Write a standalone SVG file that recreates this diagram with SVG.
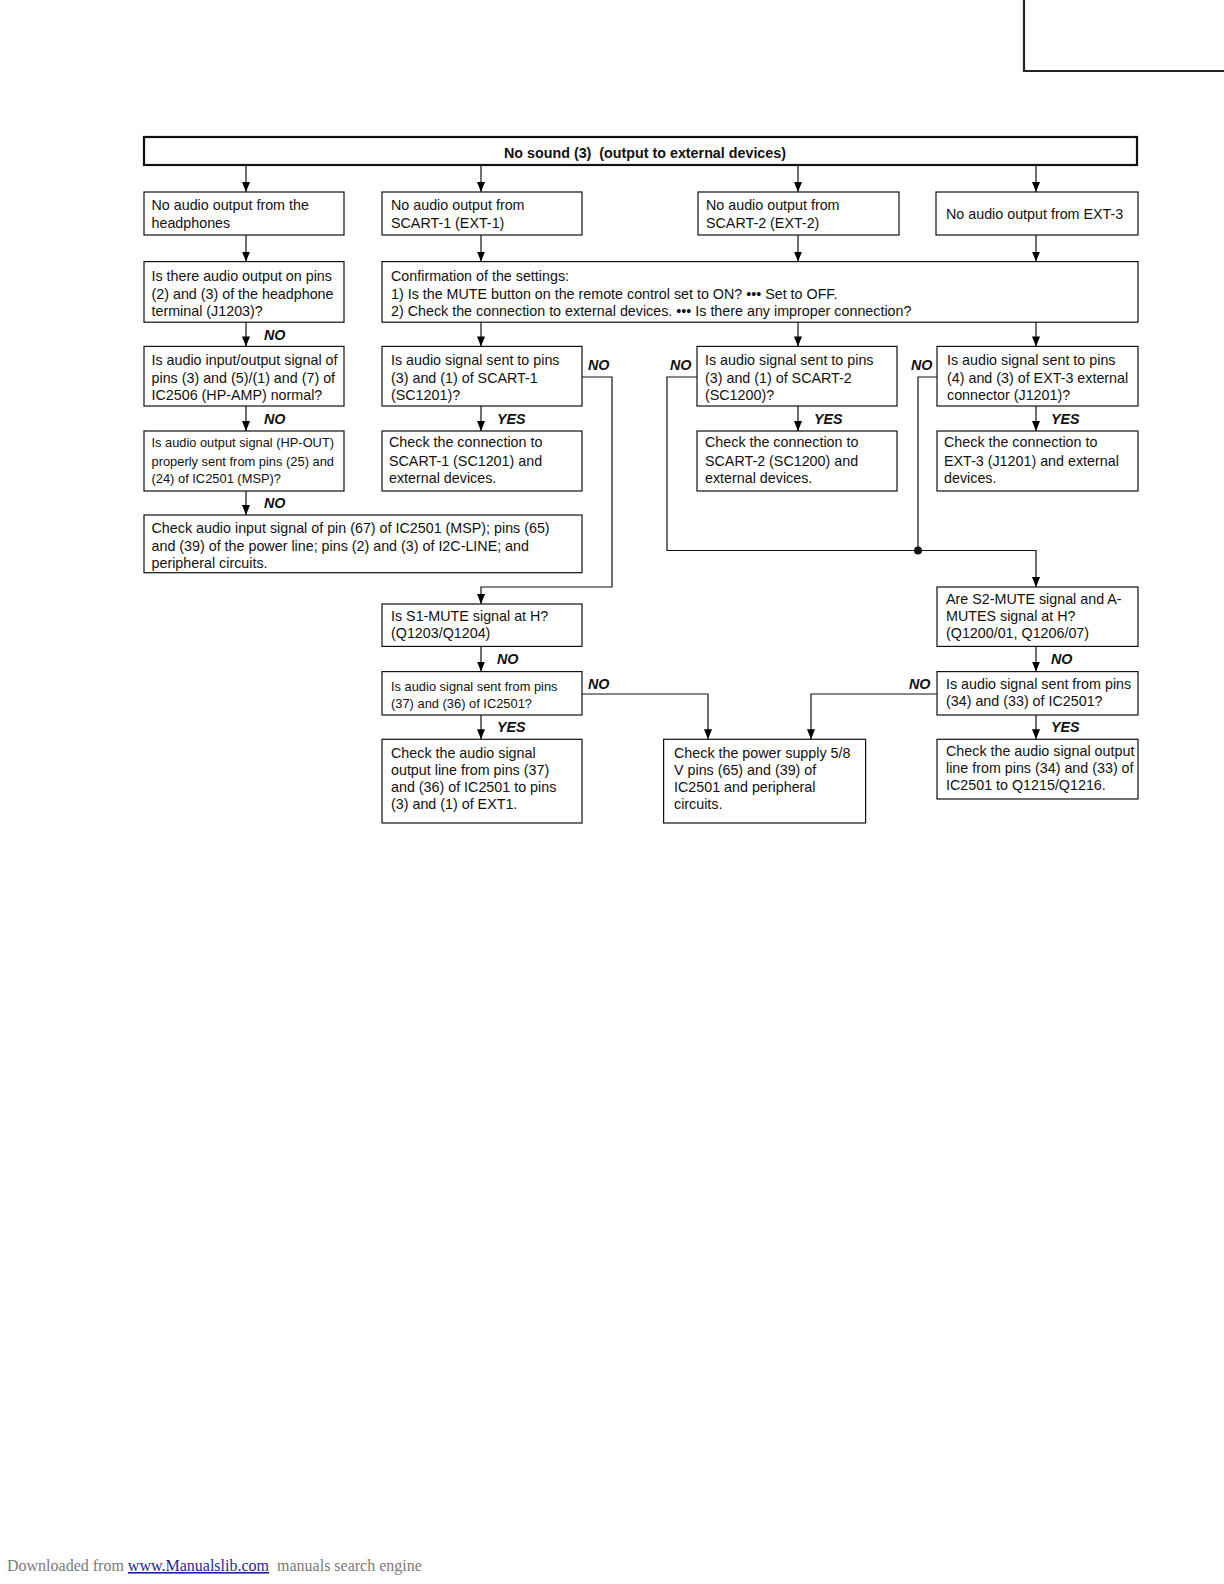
<svg xmlns="http://www.w3.org/2000/svg" width="1224" height="1584" viewBox="0 0 1224 1584">
<defs>
<marker id="arr" markerUnits="userSpaceOnUse" markerWidth="10" markerHeight="10" viewBox="0 0 10 10" refX="10" refY="5" orient="auto">
<path d="M0,1 L10,5 L0,9 Z" fill="#000"/>
</marker>
<style>
.box{fill:#fff;stroke:#111;stroke-width:1.2}
.t{font-family:"Liberation Sans",Arial,Helvetica,sans-serif;font-size:14.3px;fill:#111}
.c{font-family:"Liberation Sans",Arial,Helvetica,sans-serif;font-size:13.6px;fill:#111}
.b{font-family:"Liberation Sans",Arial,Helvetica,sans-serif;font-size:14.3px;font-weight:bold;fill:#111}
.l{font-family:"Liberation Sans",Arial,Helvetica,sans-serif;font-size:14.3px;font-weight:bold;font-style:italic;fill:#111}
.ln{fill:none;stroke:#111;stroke-width:1.2}
</style>
</defs>
<rect width="1224" height="1584" fill="#fff"/>
<path d="M1024,0 V71 H1224" fill="none" stroke="#222" stroke-width="2.2"/>

<g id="title">
<rect x="144" y="137" width="993" height="28" fill="#fff" stroke="#111" stroke-width="2.2"/>
<text class="b" x="645" y="157.5" text-anchor="middle">No sound (3)&#160; (output to external devices)</text>
</g>

<g id="connectors">
<path class="ln" d="M246,166 V192" marker-end="url(#arr)"/>
<path class="ln" d="M481,166 V192" marker-end="url(#arr)"/>
<path class="ln" d="M798,166 V192" marker-end="url(#arr)"/>
<path class="ln" d="M1036,166 V192" marker-end="url(#arr)"/>
<path class="ln" d="M246,235 V261.6" marker-end="url(#arr)"/>
<path class="ln" d="M481,235 V261.6" marker-end="url(#arr)"/>
<path class="ln" d="M798,235 V261.6" marker-end="url(#arr)"/>
<path class="ln" d="M1036,235 V261.6" marker-end="url(#arr)"/>
<path class="ln" d="M246,322 V346.4" marker-end="url(#arr)"/>
<path class="ln" d="M481,322 V346.4" marker-end="url(#arr)"/>
<path class="ln" d="M798,322 V346.4" marker-end="url(#arr)"/>
<path class="ln" d="M1036,322 V346.4" marker-end="url(#arr)"/>
<path class="ln" d="M246,406 V431" marker-end="url(#arr)"/>
<path class="ln" d="M481,406 V431" marker-end="url(#arr)"/>
<path class="ln" d="M798,406 V431" marker-end="url(#arr)"/>
<path class="ln" d="M1036,406 V431" marker-end="url(#arr)"/>
<path class="ln" d="M246,491 V515" marker-end="url(#arr)"/>
<path class="ln" d="M582,377 H612 V587 H481 V604" marker-end="url(#arr)"/>
<path class="ln" d="M697,377 H667 V550.5 H1036 V587" marker-end="url(#arr)"/>
<path class="ln" d="M937,377 H918 V550.5"/>
<circle cx="918" cy="550.5" r="4" fill="#111"/>
<path class="ln" d="M481,646.4 V671.6" marker-end="url(#arr)"/>
<path class="ln" d="M1036,646.4 V671.6" marker-end="url(#arr)"/>
<path class="ln" d="M481,715 V739.3" marker-end="url(#arr)"/>
<path class="ln" d="M1036,715 V739.3" marker-end="url(#arr)"/>
<path class="ln" d="M582,694 H708 V739.3" marker-end="url(#arr)"/>
<path class="ln" d="M937,694 H811 V739.3" marker-end="url(#arr)"/>
<text class="l" x="264" y="340">NO</text>
<text class="l" x="264" y="424">NO</text>
<text class="l" x="264" y="508">NO</text>
<text class="l" x="497" y="424">YES</text>
<text class="l" x="814" y="424">YES</text>
<text class="l" x="1051" y="424">YES</text>
<text class="l" x="588" y="369.5">NO</text>
<text class="l" x="670" y="369.5">NO</text>
<text class="l" x="911" y="369.5">NO</text>
<text class="l" x="497" y="663.5">NO</text>
<text class="l" x="1051" y="663.5">NO</text>
<text class="l" x="588" y="688.8">NO</text>
<text class="l" x="909" y="688.8">NO</text>
<text class="l" x="497" y="732">YES</text>
<text class="l" x="1051" y="732">YES</text>
</g>

<g id="a1">
<rect class="box" x="144" y="192" width="200" height="43"/>
<text class="t" x="151.5" y="210">No audio output from the</text>
<text class="t" x="151.5" y="228">headphones</text>
</g>
<g id="b1">
<rect class="box" x="382" y="192" width="200" height="43"/>
<text class="t" x="391" y="210">No audio output from</text>
<text class="t" x="391" y="228">SCART-1 (EXT-1)</text>
</g>
<g id="c1">
<rect class="box" x="698" y="192" width="201" height="43"/>
<text class="t" x="706" y="210">No audio output from</text>
<text class="t" x="706" y="228">SCART-2 (EXT-2)</text>
</g>
<g id="d1">
<rect class="box" x="936" y="192" width="202" height="43"/>
<text class="t" x="946" y="219">No audio output from EXT-3</text>
</g>

<g id="a2">
<rect class="box" x="144" y="261.6" width="200" height="60.6"/>
<text class="t" x="151.5" y="281">Is there audio output on pins</text>
<text class="t" x="151.5" y="299">(2) and (3) of the headphone</text>
<text class="t" x="151.5" y="316">terminal (J1203)?</text>
</g>
<g id="b2">
<rect class="box" x="382" y="261.6" width="756" height="60.6"/>
<text class="t" x="391" y="281">Confirmation of the settings:</text>
<text class="t" x="391" y="299">1) Is the MUTE button on the remote control set to ON? ••• Set to OFF.</text>
<text class="t" x="391" y="316">2) Check the connection to external devices. ••• Is there any improper connection?</text>
</g>

<g id="a3">
<rect class="box" x="144" y="346.4" width="200" height="59.6"/>
<text class="t" x="151.5" y="365">Is audio input/output signal of</text>
<text class="t" x="151.5" y="383">pins (3) and (5)/(1) and (7) of</text>
<text class="t" x="151.5" y="400">IC2506 (HP-AMP) normal?</text>
</g>
<g id="b3">
<rect class="box" x="382" y="346.4" width="200" height="59.6"/>
<text class="t" x="391" y="365">Is audio signal sent to pins</text>
<text class="t" x="391" y="383">(3) and (1) of SCART-1</text>
<text class="t" x="391" y="400">(SC1201)?</text>
</g>
<g id="c3">
<rect class="box" x="697" y="346.4" width="200" height="59.6"/>
<text class="t" x="705" y="365">Is audio signal sent to pins</text>
<text class="t" x="705" y="383">(3) and (1) of SCART-2</text>
<text class="t" x="705" y="400">(SC1200)?</text>
</g>
<g id="d3">
<rect class="box" x="937" y="346.4" width="201" height="59.6"/>
<text class="t" x="947" y="365">Is audio signal sent to pins</text>
<text class="t" x="947" y="383">(4) and (3) of EXT-3 external</text>
<text class="t" x="947" y="400">connector (J1201)?</text>
</g>

<g id="a4">
<rect class="box" x="144" y="431" width="200" height="60"/>
<text class="c" x="151.5" y="447" textLength="182.5" lengthAdjust="spacingAndGlyphs">Is audio output signal (HP-OUT)</text>
<text class="c" x="151.5" y="465.5" textLength="182.5" lengthAdjust="spacingAndGlyphs">properly sent from pins (25) and</text>
<text class="c" x="151.5" y="483" textLength="129.5" lengthAdjust="spacingAndGlyphs">(24) of IC2501 (MSP)?</text>
</g>
<g id="b4">
<rect class="box" x="382" y="431" width="200" height="60"/>
<text class="t" x="389" y="447">Check the connection to</text>
<text class="t" x="389" y="465.5">SCART-1 (SC1201) and</text>
<text class="t" x="389" y="483">external devices.</text>
</g>
<g id="c4">
<rect class="box" x="697" y="431" width="200" height="60"/>
<text class="t" x="705" y="447">Check the connection to</text>
<text class="t" x="705" y="465.5">SCART-2 (SC1200) and</text>
<text class="t" x="705" y="483">external devices.</text>
</g>
<g id="d4">
<rect class="box" x="937" y="431" width="201" height="60"/>
<text class="t" x="944" y="447">Check the connection to</text>
<text class="t" x="944" y="465.5">EXT-3 (J1201) and external</text>
<text class="t" x="944" y="483">devices.</text>
</g>

<g id="a5">
<rect class="box" x="144" y="515" width="438" height="57.7"/>
<text class="t" x="151.5" y="533">Check audio input signal of pin (67) of IC2501 (MSP); pins (65)</text>
<text class="t" x="151.5" y="550.5">and (39) of the power line; pins (2) and (3) of I2C-LINE; and</text>
<text class="t" x="151.5" y="567.5">peripheral circuits.</text>
</g>

<g id="s1">
<rect class="box" x="382" y="604" width="200" height="42.4"/>
<text class="t" x="391" y="621">Is S1-MUTE signal at H?</text>
<text class="t" x="391" y="638">(Q1203/Q1204)</text>
</g>
<g id="s2">
<rect class="box" x="937" y="587" width="201" height="59.4"/>
<text class="t" x="946" y="604">Are S2-MUTE signal and A-</text>
<text class="t" x="946" y="621">MUTES signal at H?</text>
<text class="t" x="946" y="638">(Q1200/01, Q1206/07)</text>
</g>

<g id="b7">
<rect class="box" x="382" y="671.6" width="200" height="43.4"/>
<text class="c" x="391" y="690.5" textLength="166.5" lengthAdjust="spacingAndGlyphs">Is audio signal sent from pins</text>
<text class="c" x="391" y="707.5" textLength="141" lengthAdjust="spacingAndGlyphs">(37) and (36) of IC2501?</text>
</g>
<g id="d7">
<rect class="box" x="937" y="671.6" width="201" height="43.4"/>
<text class="t" x="946" y="688.5">Is audio signal sent from pins</text>
<text class="t" x="946" y="706">(34) and (33) of IC2501?</text>
</g>

<g id="b8">
<rect class="box" x="382" y="739.3" width="200" height="83.7"/>
<text class="t" x="391" y="757.5">Check the audio signal</text>
<text class="t" x="391" y="774.5">output line from pins (37)</text>
<text class="t" x="391" y="792">and (36) of IC2501 to pins</text>
<text class="t" x="391" y="809">(3) and (1) of EXT1.</text>
</g>
<g id="pw">
<rect class="box" x="663.6" y="739.3" width="202" height="83.7"/>
<text class="t" x="674" y="757.5">Check the power supply 5/8</text>
<text class="t" x="674" y="774.5">V pins (65) and (39) of</text>
<text class="t" x="674" y="792">IC2501 and peripheral</text>
<text class="t" x="674" y="809">circuits.</text>
</g>
<g id="d8">
<rect class="box" x="937" y="739.3" width="201" height="59.7"/>
<text class="t" x="946" y="755.5">Check the audio signal output</text>
<text class="t" x="946" y="772.5">line from pins (34) and (33) of</text>
<text class="t" x="946" y="790">IC2501 to Q1215/Q1216.</text>
</g>

<g id="footer" font-family="'Liberation Serif','Times New Roman',serif" font-size="16">
<text x="7" y="1571" fill="#7a7a7a">Downloaded from <tspan fill="#1f1fa0" text-decoration="underline">www.Manualslib.com</tspan>&#160; manuals search engine</text>
</g>
</svg>
